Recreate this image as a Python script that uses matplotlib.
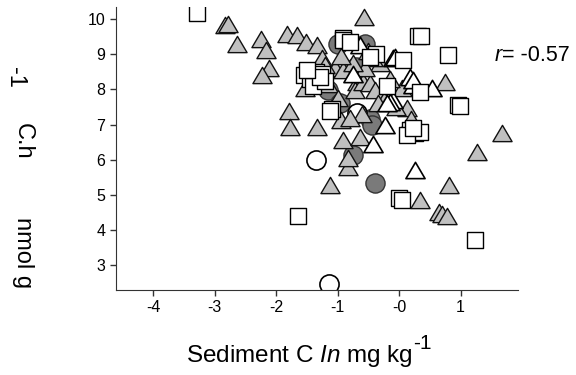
import matplotlib.pyplot as plt
from matplotlib.path import Path

plt.rcParams['font.family'] = ['Liberation Sans', 'DejaVu Sans']
plt.rcParams['mathtext.fontset'] = 'custom'
plt.rcParams['mathtext.rm'] = 'Liberation Sans'
plt.rcParams['mathtext.it'] = 'Liberation Sans:italic'

# gray triangles
tri_x = [-2.83, -2.78, -2.64, -2.25, -2.16, -2.11, -2.23, -1.83, -1.67, -1.51,
         -1.34, -1.26, -1.80, -1.78, -1.53, -1.34, -1.13, -0.91, -0.64, -0.83,
         -0.83, -0.94, -0.57, -1.05, -0.91, -0.69, -0.72, -0.59, -0.48, -0.40,
         -0.31, -0.42, 0.12, 0.20, -1.15, -0.55, -0.25, -0.05, -0.60, -0.80,
         -1.00, -0.50, -0.85, -1.20, -0.35, 0.05, 0.75, 1.67, 1.27, 0.81,
         0.34, 0.64, 0.69, 0.77, -0.75, -0.15, -0.95]
tri_y = [9.82, 9.85, 9.30, 9.42, 9.13, 8.61, 8.40, 9.59, 9.54, 9.35,
         9.26, 8.88, 7.38, 6.93, 8.03, 6.93, 5.28, 6.56, 6.65, 5.80,
         6.04, 7.12, 10.06, 8.60, 8.55, 8.21, 7.98, 8.21, 8.17, 7.98,
         8.74, 8.88, 7.46, 7.17, 8.15, 8.60, 7.70, 7.50, 7.30, 7.20,
         7.75, 9.10, 9.40, 8.70, 7.60, 8.05, 8.21, 6.75, 6.22, 5.28,
         4.85, 4.52, 4.47, 4.40, 8.75, 8.30, 8.95]

# white triangles
otri_x = [-0.64, -0.10, 0.17, 0.53, 0.23, -0.10, -0.15, -0.20, -0.23, -0.42,
          0.23, 0.25, -0.75, -0.07, 0.23]
otri_y = [9.26, 8.88, 8.36, 8.03, 8.12, 7.69, 7.64, 7.60, 6.98, 6.46,
          6.84, 5.70, 8.45, 8.92, 8.26]

# white squares
sq_x = [-3.29, -1.64, 1.23, 0.00, 0.05, 0.80, 0.31, 0.36, 0.96, 0.99,
        -0.91, -0.91, -0.80, -0.37, 0.07, 0.34, -1.10, -1.13, 0.17, 0.25,
        0.34, 0.12, 0.22, -1.55, -1.45, -1.35, -1.30, -1.40, -1.25, -1.20,
        -0.48, -1.29, -1.50, -0.20]
sq_y = [10.17, 4.40, 3.71, 4.90, 4.85, 8.99, 9.51, 9.51, 7.55, 7.52,
        9.45, 9.40, 9.35, 9.02, 8.83, 7.93, 7.43, 7.40, 6.84, 6.75,
        6.80, 6.70, 6.90, 8.40, 8.30, 8.50, 8.30, 8.10, 8.45, 8.25,
        8.92, 8.36, 8.55, 8.10]

# gray circles
circ_x = [-1.00, -0.55, -1.15, -0.96, -0.48, -0.45, -0.75, -0.40, -1.30, -0.70]
circ_y = [9.30, 9.30, 7.98, 7.62, 7.17, 6.98, 6.13, 5.34, 8.45, 8.65]

# white circles
ocirc_x = [-1.36, -1.14, -0.69]
ocirc_y = [5.99, 2.47, 7.32]

x_ticks = [-4, -3, -2, -1, 0, 1]
x_ticklabels = ['-4', '-3', '-2', '-1', '-0', '1']
y_ticks = [3, 4, 5, 6, 7, 8, 9, 10]

# flat triangle marker (closed)
tri = Path([(-1, -0.85), (1, -0.85), (0, 0.85), (-1, -0.85)],
           [Path.MOVETO, Path.LINETO, Path.LINETO, Path.CLOSEPOLY])

fig = plt.figure(figsize=(5.76, 3.75), dpi=100)
ax = fig.add_axes([0.201, 0.227, 0.698, 0.754])

ax.scatter(circ_x, circ_y, s=190, marker='o', facecolor='#7a7a7a',
           edgecolor='#333333', linewidth=1.0, zorder=2)
ax.scatter(ocirc_x, ocirc_y, s=190, marker='o', facecolor='white',
           edgecolor='black', linewidth=1.2, zorder=2)
ax.scatter(tri_x, tri_y, s=190, marker=tri, facecolor='#c0c0c0',
           edgecolor='#111111', linewidth=1.0, zorder=3)
ax.scatter(otri_x, otri_y, s=190, marker=tri, facecolor='white',
           edgecolor='black', linewidth=1.2, zorder=3)
ax.scatter(sq_x, sq_y, s=130, marker='s', facecolor='white',
           edgecolor='black', linewidth=1.0, zorder=4)

ax.set_xlim(-4.61, 1.93)
ax.set_ylim(2.30, 10.34)
ax.set_xticks(x_ticks)
ax.set_xticklabels(x_ticklabels)
ax.set_yticks(y_ticks)
ax.tick_params(axis='both', labelsize=11.5, direction='out', length=4,
               width=1, color='#333333')
for side in ['top', 'right']:
    ax.spines[side].set_visible(False)
for side in ['left', 'bottom']:
    ax.spines[side].set_color('#333333')

# x label with a full-size raised exponent
xl = fig.text(186 / 576, 1 - 362 / 375, r'Sediment C $\mathit{In}$ mg kg',
              fontsize=17.5, ha='left', va='baseline')
fig.canvas.draw()
bb = xl.get_window_extent()
fig.text(bb.x1 / fig.bbox.width + 0.001, 1 - 349 / 375, '-1',
         fontsize=15, ha='left', va='baseline')

fig.text(0.858, 0.853, 'r', fontsize=15.5, fontstyle='italic', ha='left', va='center')
fig.text(0.872, 0.853, '= -0.57', fontsize=15.5, ha='left', va='center')

# y axis label pieces
fig.text(15 / 576, 1 - 77 / 375, '-1', fontsize=17, rotation=-90, ha='center', va='center')
fig.text(23 / 576, 1 - 141 / 375, 'C.h', fontsize=17, rotation=-90, ha='center', va='center')
fig.text(23 / 576, 1 - 253 / 375, 'nmol g', fontsize=17, rotation=-90, ha='center', va='center')

fig.savefig('out.png', dpi=100)
